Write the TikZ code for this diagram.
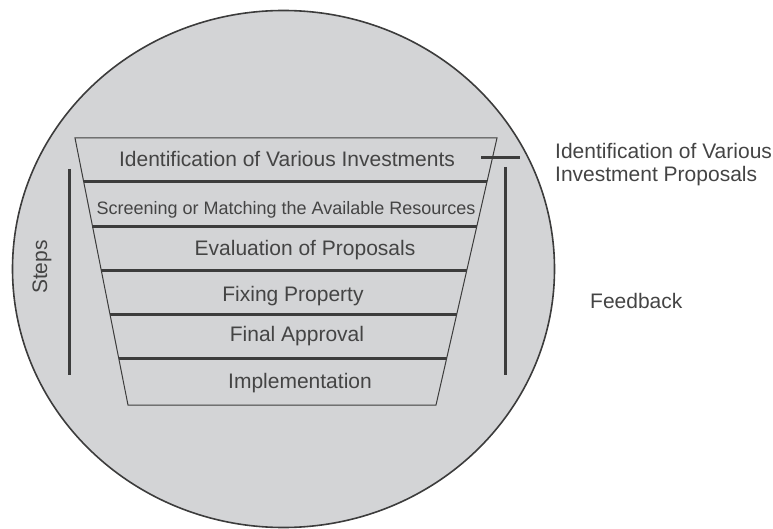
\documentclass[tikz,border=0pt]{standalone}
\usepackage{fontspec}
\setmainfont{Liberation Sans}
\usetikzlibrary{calc}
\definecolor{fillgray}{HTML}{D3D4D6}
\definecolor{linegray}{HTML}{3C3C3C}
\definecolor{textgray}{HTML}{444444}
\tikzset{
  lbl/.style={inner sep=0pt, anchor=base, text=textgray, font=\fontsize{21}{25}\selectfont},
  smalllbl/.style={lbl, font=\fontsize{18}{22}\selectfont},
  sep/.style={draw=linegray, line width=3pt},
  thin/.style={draw=linegray, line width=1pt},
  bar/.style={draw=linegray, line width=3pt},
}
\begin{document}
\begin{tikzpicture}[x=1pt,y=-1pt]
\useasboundingbox (0,0) rectangle (773,529);
% ellipse
\draw[fill=fillgray, draw=linegray, line width=1.6pt] (283.5,269) ellipse [x radius=271, y radius=258.5];
% funnel
\coordinate (TL) at (75,138);
\coordinate (TR) at (497,138);
\coordinate (BL) at (128,405);
\coordinate (BR) at (436,405);
\draw[thin, fill=fillgray] (TL) -- (TR) -- (BR) -- (BL) -- cycle;
\foreach \t in {0.1648,0.3296,0.4981,0.6629,0.8277}{
  \draw[sep] ($(TL)!\t!(BL)$) -- ($(TR)!\t!(BR)$);
}
% labels inside
\node[lbl] (s1) at (287,166.7) {Identification of Various Investments};
\node[smalllbl] (s2) at (286,214.3) {Screening or Matching the Available Resources};
\node[lbl] (s3) at (305,255) {Evaluation of Proposals};
\node[lbl] (s4) at (293,301.7) {Fixing Property};
\node[lbl] (s5) at (297,341.7) {Final Approval};
\node[lbl] (s6) at (300,388.3) {Implementation};
% steps bar
\coordinate (lt) at (69,169);
\coordinate (lb) at (69,375);
\draw[bar] (lt) -- (lb);
\node[lbl, rotate=90] (steps) at (47,267) {Steps};
% feedback bar
\coordinate (rt) at (505.5,167);
\coordinate (rb) at (505.5,375);
\draw[bar] (rt) -- (rb);
\coordinate (tka) at (481,158);
\coordinate (tkb) at (520,158);
\draw[bar] (tka) -- (tkb);
% right labels
\node[lbl, anchor=base west] (idr1) at (555,158.3) {Identification of Various};
\node[lbl, anchor=base west] (idr2) at (555,181.7) {Investment Proposals};
\node[lbl, anchor=base west] (fb) at (590,308.3) {Feedback};
\end{tikzpicture}
\end{document}
